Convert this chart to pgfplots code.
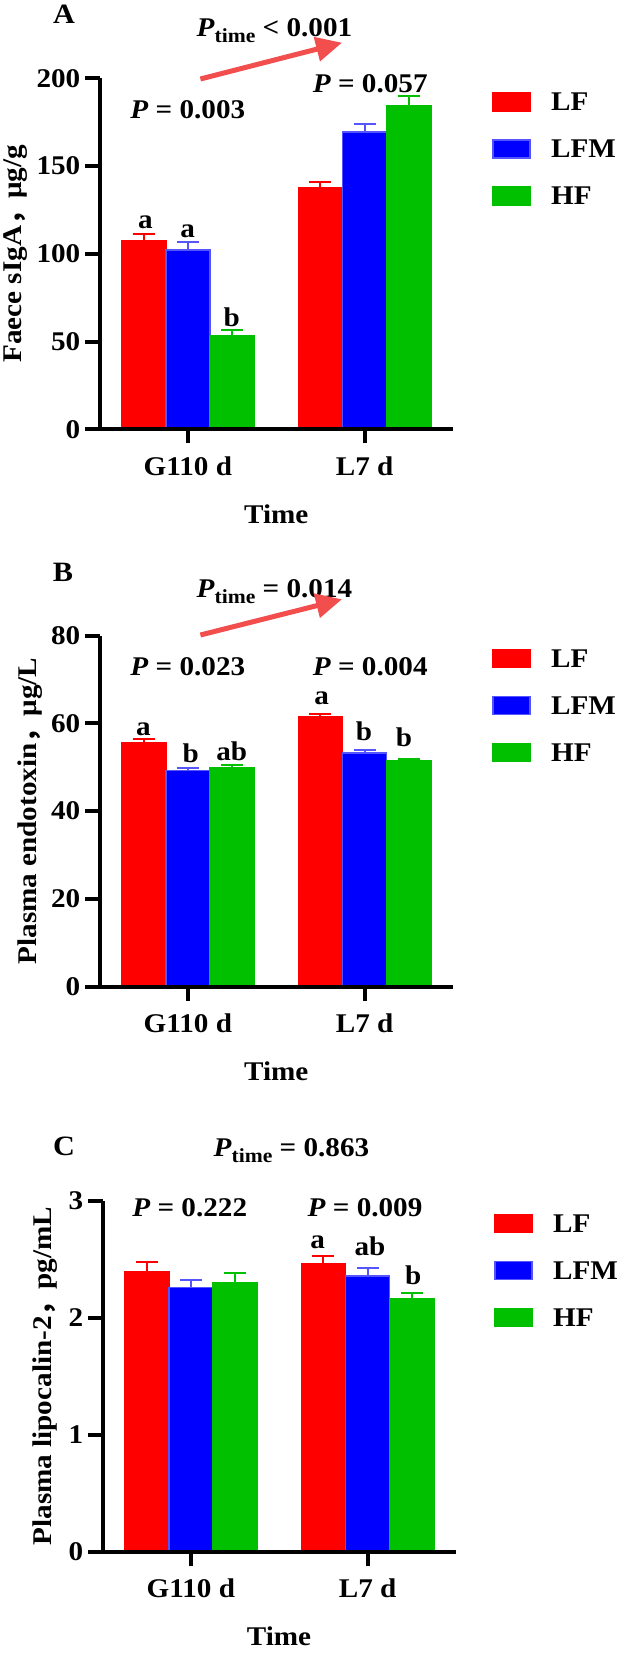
\documentclass[border=0pt]{standalone}
\usepackage{fontspec}
\setmainfont{Liberation Serif}[FakeStretch=1.08]
\newfontfamily\cjk{Noto Sans CJK SC}
\usepackage{pgfplots}
\pgfplotsset{compat=1.18}
\usetikzlibrary{arrows.meta}
\definecolor{cLF}{RGB}{255,0,0}
\definecolor{cLFM}{RGB}{0,0,255}
\definecolor{cLFMe}{RGB}{85,85,255}
\definecolor{cHF}{RGB}{0,192,0}
\definecolor{cArrow}{RGB}{242,78,78}
\newcommand\F{\fontsize{27pt}{32pt}\selectfont\bfseries}
\newcommand\Pt{\textit{P}\raisebox{-6pt}{\fontsize{20pt}{20pt}\selectfont time}}
\pgfplotsset{
  panel/.style={
    scale only axis, width=353.5pt, height=351pt,
    xmin=-0.5, xmax=1.5, ymin=0,
    axis x line=bottom, axis y line=left,
    axis line style={line width=4pt, -},
    every tick/.style={line width=4pt, black},
    tick align=outside, major tick length=14pt,
    xtick={0,1}, xticklabels={G110 d, L7 d},
    tick label style={font=\F},
    /pgf/number format/assume math mode=true,
    yticklabel style={inner sep=0pt, xshift=-5pt},
    xticklabel style={inner sep=0pt, yshift=-13pt},
    axis on top, clip=false,
  },
  mybar/.style={ybar, bar width=0.25, bar shift=0pt, fill=#1, draw=#1, line width=1.5pt,
    error bars/.cd, y dir=plus, y explicit,
    error bar style={line width=2pt, #1},
    error mark options={rotate=90, mark size=11pt, line width=2pt, #1}},
  blubar/.style={ybar, bar width=0.25, bar shift=0pt, fill=cLFM, draw=cLFMe, line width=1.5pt,
    error bars/.cd, y dir=plus, y explicit,
    error bar style={line width=2pt, cLFMe},
    error mark options={rotate=90, mark size=11pt, line width=2pt, cLFMe}},
}
\newcommand\legendat[3]{% x of square, y centre of first entry, x of text
  \filldraw[fill=cLF, draw=cLF, line width=1.5pt] (#1pt,{-(#2-9)*1pt}) rectangle ({(#1+37)*1pt},{-(#2+9)*1pt});
  \node[anchor=base west, inner sep=0pt] at (#3pt,{-(#2+9)*1pt}) {\F LF};
  \filldraw[fill=cLFM, draw=cLFMe, line width=1.5pt] (#1pt,{-(#2+47-9)*1pt}) rectangle ({(#1+37)*1pt},{-(#2+47+9)*1pt});
  \node[anchor=base west, inner sep=0pt] at (#3pt,{-(#2+47+9)*1pt}) {\F LFM};
  \filldraw[fill=cHF, draw=cHF, line width=1.5pt] (#1pt,{-(#2+94-9)*1pt}) rectangle ({(#1+37)*1pt},{-(#2+94+9)*1pt});
  \node[anchor=base west, inner sep=0pt] at (#3pt,{-(#2+94+9)*1pt}) {\F HF};
}
\begin{document}
\begin{tikzpicture}[x=1pt,y=1pt]
\path[use as bounding box] (0,0) rectangle (620,-1653);

% ---------------- Panel A ----------------
\begin{axis}[panel, at={(99.5pt,-429.3pt)}, anchor=south west, ymax=200, ytick={0,50,100,150,200}]
\addplot[mybar=cLF] coordinates {(-0.25,107.5) +- (0,3.8) (0.75,137.7) +- (0,3.0)};
\addplot[blubar] coordinates {(0,102.2) +- (0,4.4) (1,169.4) +- (0,4.8)};
\addplot[mybar=cHF] coordinates {(0.25,53.2) +- (0,3.2) (1.25,184.2) +- (0,5.9)};
\end{axis}
\node[anchor=base] at (64,-23.3) {\fontsize{28pt}{30pt}\selectfont\bfseries A};
\node[anchor=base west, inner sep=0pt] at (196.4,-37) {\F\Pt\ <\ 0.001};
\draw[cArrow, line width=5pt, -{Triangle[length=26pt, width=24pt]}] (200.4,-79) -- (342,-42.7);
\node[anchor=base, inner sep=0pt] at (187.8,-118.3) {\F\textit{P} = 0.003};
\node[anchor=base, inner sep=0pt] at (370.2,-92.7) {\F\textit{P} = 0.057};
\node[anchor=base, inner sep=0pt] at (145.3,-228.3) {\F a};
\node[anchor=base, inner sep=0pt] at (187.7,-237.3) {\F a};
\node[anchor=base, inner sep=0pt] at (231.7,-326.7) {\F b};
\node[anchor=base, rotate=90, inner sep=0pt] at (21.7,-253.8) {\F Faece sIgA{\cjk ，}μg/g};
\node[anchor=base, inner sep=0pt] at (276.2,-523) {\F Time};
\legendat{493}{101.8}{551}

% ---------------- Panel B ----------------
\begin{axis}[panel, at={(99.5pt,-986.5pt)}, anchor=south west, ymax=80, ytick={0,20,40,60,80}]
\addplot[mybar=cLF] coordinates {(-0.25,55.6) +- (0,0.7) (0.75,61.4) +- (0,0.6)};
\addplot[blubar] coordinates {(0,49.2) +- (0,0.5) (1,53.2) +- (0,0.8)};
\addplot[mybar=cHF] coordinates {(0.25,49.9) +- (0,0.5) (1.25,51.4) +- (0,0.5)};
\end{axis}
\node[anchor=base] at (63,-581.7) {\fontsize{28pt}{30pt}\selectfont\bfseries B};
\node[anchor=base west, inner sep=0pt] at (196.4,-597) {\F\Pt\ =\ 0.014};
\draw[cArrow, line width=5pt, -{Triangle[length=26pt, width=24pt]}] (200.4,-635) -- (342,-599.3);
\node[anchor=base, inner sep=0pt] at (187.8,-675) {\F\textit{P} = 0.023};
\node[anchor=base, inner sep=0pt] at (370.2,-675) {\F\textit{P} = 0.004};
\node[anchor=base, inner sep=0pt] at (143.3,-735) {\F a};
\node[anchor=base, inner sep=0pt] at (190.7,-762.7) {\F b};
\node[anchor=base, inner sep=0pt] at (231.7,-760) {\F ab};
\node[anchor=base, inner sep=0pt] at (321.7,-704) {\F a};
\node[anchor=base, inner sep=0pt] at (364,-740.7) {\F b};
\node[anchor=base, inner sep=0pt] at (404,-746.7) {\F b};
\node[anchor=base, rotate=90, inner sep=0pt] at (36.4,-811) {\F Plasma endotoxin{\cjk ，}μg/L};
\node[anchor=base, inner sep=0pt] at (276.2,-1080) {\F Time};
\legendat{493}{658.5}{551}

% ---------------- Panel C ----------------
\begin{axis}[panel, at={(102.5pt,-1551.5pt)}, anchor=south west, ymax=3, ytick={0,1,2,3}]
\addplot[mybar=cLF] coordinates {(-0.25,2.395) +- (0,0.083) (0.75,2.458) +- (0,0.071)};
\addplot[blubar] coordinates {(0,2.256) +- (0,0.068) (1,2.356) +- (0,0.068)};
\addplot[mybar=cHF] coordinates {(0.25,2.296) +- (0,0.082) (1.25,2.159) +- (0,0.052)};
\end{axis}
\node[anchor=base] at (64,-1155) {\fontsize{28pt}{30pt}\selectfont\bfseries C};
\node[anchor=base west, inner sep=0pt] at (213.4,-1156.7) {\F\Pt\ =\ 0.863};
\node[anchor=base, inner sep=0pt] at (189.7,-1216.7) {\F\textit{P} = 0.222};
\node[anchor=base, inner sep=0pt] at (365,-1216.7) {\F\textit{P} = 0.009};
\node[anchor=base, inner sep=0pt] at (317.7,-1248.3) {\F a};
\node[anchor=base, inner sep=0pt] at (370,-1255) {\F ab};
\node[anchor=base, inner sep=0pt] at (413.3,-1284) {\F b};
\node[anchor=base, rotate=90, inner sep=0pt] at (51.4,-1376) {\F Plasma lipocalin-2{\cjk ，}pg/mL};
\node[anchor=base, inner sep=0pt] at (279,-1645) {\F Time};
\legendat{495}{1223.5}{553}
\end{tikzpicture}
\end{document}
